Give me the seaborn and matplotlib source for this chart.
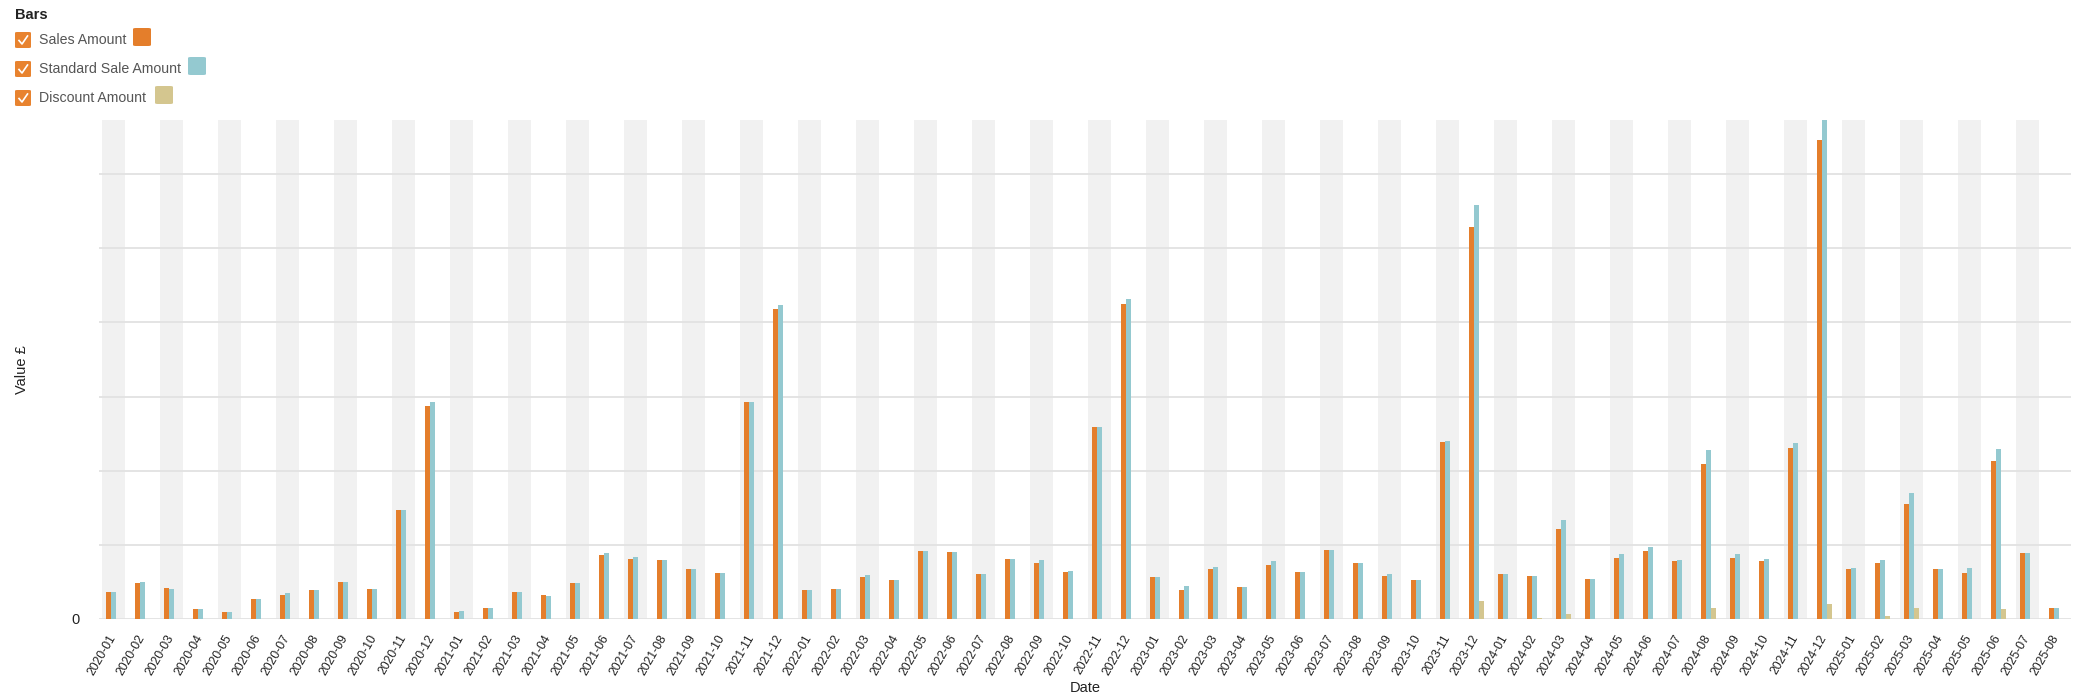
import numpy as np
import pandas as pd
import matplotlib
matplotlib.use("Agg")
import matplotlib.pyplot as plt
from matplotlib.patches import FancyBboxPatch
from matplotlib.lines import Line2D
import seaborn as sns

# --- Data (in £) ---
months = [f"{y}-{m:02d}" for y in range(2020, 2026) for m in range(1, 13)][:68]

sales_amount = [
    3700, 4900, 4200, 1350, 900, 2650, 3200, 3900, 5000, 4100, 14700, 28700,
    900, 1500, 3600, 3200, 4900, 8600, 8100, 7900, 6700, 6200, 29300, 41800,
    3900, 4100, 5700, 5300, 9200, 9000, 6100, 8100, 7500, 6400, 25900, 42500,
    5700, 3900, 6700, 4300, 7300, 6300, 9300, 7500, 5800, 5200, 23900, 52900,
    6100, 5800, 12200, 5400, 8200, 9200, 7800, 20900, 8200, 7800, 23100, 64600,
    6700, 7500, 15500, 6700, 6200, 21300, 8950, 1500,
]
standard_sale_amount = [
    3700, 5000, 4100, 1350, 900, 2700, 3500, 3900, 5000, 4100, 14700, 29200,
    1100, 1500, 3700, 3150, 4900, 8950, 8300, 7900, 6700, 6200, 29300, 42400,
    3900, 4100, 6000, 5300, 9200, 9000, 6100, 8100, 7900, 6500, 25900, 43200,
    5700, 4500, 7000, 4300, 7800, 6300, 9300, 7500, 6100, 5200, 24000, 55800,
    6100, 5800, 13300, 5400, 8700, 9700, 7900, 22800, 8700, 8100, 23800, 67300,
    6900, 8000, 17000, 6700, 6900, 22900, 8950, 1500,
]
discount_amount = [0] * 47 + [
    2400, 0, 100, 700, 0, 0, 0, 0, 1500, 0, 0, 0, 2000,
    0, 400, 1500, 0, 0, 1350, 0, 0,
]

series_names = ["Sales Amount", "Standard Sale Amount", "Discount Amount"]
series_colors = ["#E47E2B", "#94C9D0", "#D4C68F"]
grid_step = 10000

df = pd.DataFrame({
    "Date": months * 3,
    "Value": sales_amount + standard_sale_amount + discount_amount,
    "Series": [s for s in series_names for _ in months],
})

# --- Figure ---
W, H = 2084, 696
fig = plt.figure(figsize=(W / 100, H / 100), dpi=100)
plt.rcParams["font.family"] = ["Liberation Sans", "DejaVu Sans"]


def fx(px):
    return px / W


def fy(py):
    return 1 - py / H


ax = fig.add_axes([fx(98.8), fy(619), fx(2071) - fx(98.8), fy(120) - fy(619)])

# alternating background bands
for i in range(0, len(months), 2):
    ax.axvspan(i - 0.4, i + 0.4, color="#f1f1f1", zorder=0, lw=0)

sns.barplot(data=df, x="Date", y="Value", hue="Series", order=months,
            hue_order=series_names, palette=series_colors, width=0.52,
            saturation=1, linewidth=0, legend=False, ax=ax, zorder=3)

ax.set_xlim(-0.5, len(months) - 0.5)
ax.set_ylim(0, max(standard_sale_amount))
yticks = np.arange(0, 7) * grid_step
ax.set_yticks(yticks)
ax.set_yticklabels(["0"] + [""] * (len(yticks) - 1))
ax.yaxis.grid(True, color="#e2e2e2", lw=1.3, zorder=1)
ax.set_axisbelow(False)
for gl in ax.get_ygridlines():
    gl.set_zorder(1)
for s in ax.spines.values():
    s.set_visible(False)
ax.tick_params(axis="both", length=0)
ax.tick_params(axis="y", labelsize=10.5, labelcolor="#222222", pad=14)
ax.tick_params(axis="x", labelsize=8.8, labelcolor="#222222", pad=12)
for lbl in ax.get_xticklabels():
    lbl.set_rotation(60)
    lbl.set_ha("right")
    lbl.set_va("center")
    lbl.set_rotation_mode("anchor")
ax.set_xlabel("")
ax.set_ylabel("")

fig.text(fx(22), fy(370), "Value £", rotation=90, ha="center", va="center",
         fontsize=10.5, color="#222222")
fig.text(fx(1085), fy(695), "Date", ha="center", va="bottom",
         fontsize=10.5, color="#222222")

# --- Legend (checkbox style) ---
fig.text(fx(15), fy(15), "Bars", ha="left", va="center", fontsize=10.5,
         fontweight="bold", color="#222222")
check_orange = "#E8832F"
rows_y = [40, 69, 98]
swatch_x = [133, 188, 155]
for name, color, ry, sx in zip(series_names, series_colors, rows_y, swatch_x):
    box = FancyBboxPatch((fx(15), fy(ry + 8)), fx(16), 16 / H,
                         boxstyle="round,pad=0,rounding_size=0.0012",
                         transform=fig.transFigure, facecolor=check_orange,
                         edgecolor="none")
    fig.add_artist(box)
    fig.add_artist(Line2D([fx(19), fx(22), fx(27.5)],
                          [fy(ry + 0.5), fy(ry + 4), fy(ry - 4)],
                          transform=fig.transFigure, color="white", lw=1.2))
    fig.text(fx(39), fy(ry), name, ha="left", va="center", fontsize=10.2,
             color="#555555")
    sw = FancyBboxPatch((fx(sx), fy(ry + 6)), fx(18), 18 / H,
                        boxstyle="round,pad=0,rounding_size=0.0014",
                        transform=fig.transFigure, facecolor=color,
                        edgecolor="none")
    fig.add_artist(sw)

fig.savefig("out.png", dpi=100)
